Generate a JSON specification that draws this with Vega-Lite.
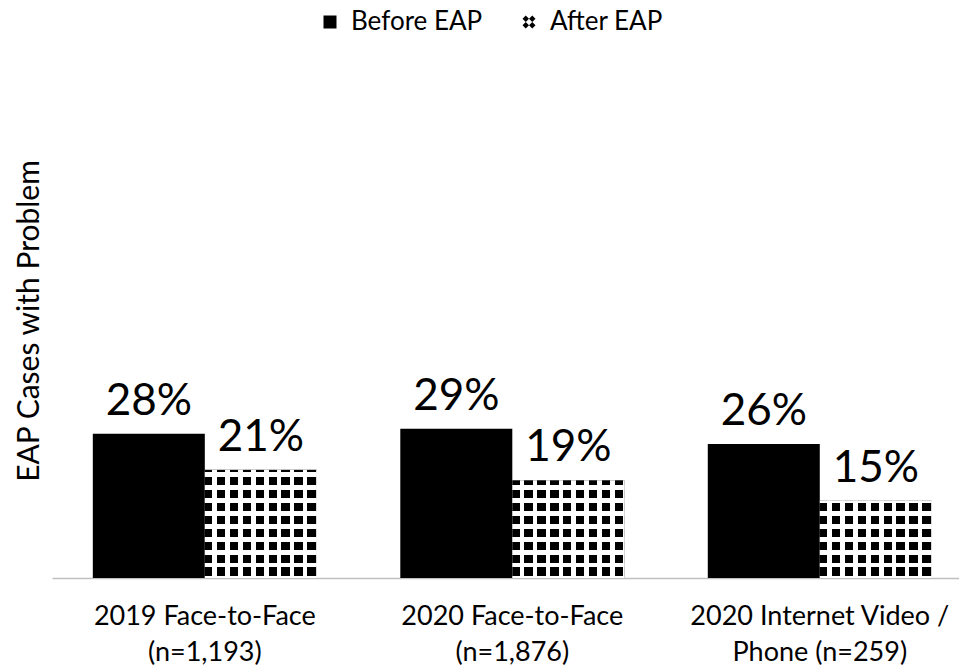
{
  "$schema": "https://vega.github.io/schema/vega-lite/v6.json",
  "autosize": {"type": "none"},
  "padding": {"left": 52, "top": 63, "right": 0, "bottom": 89},
  "width": 907,
  "height": 515,
  "config": {
    "font": "Lato",
    "view": {"stroke": null},
    "background": "#ffffff"
  },
  "data": {
    "values": [
      {"group": "2019 Face-to-Face|(n=1,193)", "series": "Before EAP", "value": 0.28},
      {"group": "2019 Face-to-Face|(n=1,193)", "series": "After EAP", "value": 0.21},
      {"group": "2020 Face-to-Face|(n=1,876)", "series": "Before EAP", "value": 0.29},
      {"group": "2020 Face-to-Face|(n=1,876)", "series": "After EAP", "value": 0.19},
      {"group": "2020 Internet Video /|Phone (n=259)", "series": "Before EAP", "value": 0.26},
      {"group": "2020 Internet Video /|Phone (n=259)", "series": "After EAP", "value": 0.15}
    ]
  },
  "encoding": {
    "x": {
      "field": "group", "type": "nominal",
      "sort": ["2019 Face-to-Face|(n=1,193)", "2020 Face-to-Face|(n=1,876)", "2020 Internet Video /|Phone (n=259)"],
      "scale": {"paddingInner": 0.2715, "paddingOuter": 0.1106, "align": 0.6},
      "axis": {
        "title": null, "labelAngle": 0, "ticks": false, "labelFontSize": 27, "labelColor": "#000000",
        "labelLineHeight": 36, "labelPadding": 25, "domainColor": "#bfbfbf", "domainWidth": 1.5,
        "labelExpr": "split(datum.label, '|')", "grid": false, "labelLimit": 500
      }
    },
    "xOffset": {
      "field": "series", "type": "nominal",
      "sort": ["Before EAP", "After EAP"],
      "scale": {"paddingInner": 0, "paddingOuter": 0}
    },
    "y": {
      "field": "value", "type": "quantitative",
      "scale": {"domain": [0, 1], "nice": false},
      "axis": {
        "title": "EAP Cases with Problem", "domain": false, "ticks": false, "labels": false, "grid": false,
        "titleFontSize": 30, "titleFontWeight": "normal", "titleColor": "#000000", "titlePadding": 8
      }
    }
  },
  "layer": [
    {
      "mark": {"type": "point", "filled": true, "size": 169, "opacity": 1, "strokeWidth": 0},
      "encoding": {
        "y": {"datum": 0.05, "type": "quantitative"},
        "color": {
          "field": "series", "type": "nominal",
          "scale": {"domain": ["Before EAP", "After EAP"], "range": ["#000000", "#000000"]},
          "legend": {
            "title": null, "orient": "none", "legendX": 265, "legendY": -54, "direction": "horizontal",
            "symbolSize": 169, "symbolStrokeWidth": 0, "labelFontSize": 26,
            "labelColor": "#000000", "labelOffset": 8, "columnPadding": 33, "labelLimit": 300
          }
        },
        "shape": {
          "field": "series", "type": "nominal",
          "scale": {"domain": ["Before EAP", "After EAP"], "range": ["square", "M-0.5,-1L0,-0.5L-0.5,0L-1,-0.5Z M0.5,-1L1,-0.5L0.5,0L0,-0.5Z M-0.5,0L0,0.5L-0.5,1L-1,0.5Z M0.5,0L1,0.5L0.5,1L0,0.5Z"]},
          "legend": {
            "title": null, "orient": "none", "legendX": 265, "legendY": -54, "direction": "horizontal",
            "symbolSize": 169, "symbolStrokeWidth": 0, "labelFontSize": 26,
            "labelColor": "#000000", "labelOffset": 8, "columnPadding": 33, "labelLimit": 300
          }
        }
      }
    },
    {
      "mark": {"type": "bar", "fill": "#000000", "strokeWidth": 0}
    },
    {
      "transform": [{"filter": "datum.series === 'After EAP'"}],
      "mark": {"type": "bar", "strokeWidth": 0, "fill": {"gradient": "linear", "x1": 0, "y1": 0, "x2": 1, "y2": 0, "stops": [
        {"offset": 0, "color": "rgba(255,255,255,0)"}, {"offset": 0.0669, "color": "rgba(255,255,255,0)"},
        {"offset": 0.0669, "color": "#ffffff"}, {"offset": 0.1083, "color": "#ffffff"},
        {"offset": 0.1083, "color": "rgba(255,255,255,0)"}, {"offset": 0.1821, "color": "rgba(255,255,255,0)"},
        {"offset": 0.1821, "color": "#ffffff"}, {"offset": 0.2235, "color": "#ffffff"},
        {"offset": 0.2235, "color": "rgba(255,255,255,0)"}, {"offset": 0.2973, "color": "rgba(255,255,255,0)"},
        {"offset": 0.2973, "color": "#ffffff"}, {"offset": 0.3387, "color": "#ffffff"},
        {"offset": 0.3387, "color": "rgba(255,255,255,0)"}, {"offset": 0.4125, "color": "rgba(255,255,255,0)"},
        {"offset": 0.4125, "color": "#ffffff"}, {"offset": 0.4539, "color": "#ffffff"},
        {"offset": 0.4539, "color": "rgba(255,255,255,0)"}, {"offset": 0.5277, "color": "rgba(255,255,255,0)"},
        {"offset": 0.5277, "color": "#ffffff"}, {"offset": 0.5691, "color": "#ffffff"},
        {"offset": 0.5691, "color": "rgba(255,255,255,0)"}, {"offset": 0.6429, "color": "rgba(255,255,255,0)"},
        {"offset": 0.6429, "color": "#ffffff"}, {"offset": 0.6843, "color": "#ffffff"},
        {"offset": 0.6843, "color": "rgba(255,255,255,0)"}, {"offset": 0.7581, "color": "rgba(255,255,255,0)"},
        {"offset": 0.7581, "color": "#ffffff"}, {"offset": 0.7995, "color": "#ffffff"},
        {"offset": 0.7995, "color": "rgba(255,255,255,0)"}, {"offset": 0.8733, "color": "rgba(255,255,255,0)"},
        {"offset": 0.8733, "color": "#ffffff"}, {"offset": 0.9147, "color": "#ffffff"},
        {"offset": 0.9147, "color": "rgba(255,255,255,0)"}, {"offset": 0.9885, "color": "rgba(255,255,255,0)"},
        {"offset": 0.9885, "color": "#ffffff"}, {"offset": 1, "color": "#ffffff"}
      ]}}
    },
    {
      "transform": [{"filter": "datum.series === 'After EAP' && indexof(datum.group, '2019') === 0"}],
      "mark": {"type": "bar", "strokeWidth": 0, "fill": {"gradient": "linear", "x1": 0, "y1": 1, "x2": 0, "y2": 0, "stops": [
        {"offset": 0, "color": "#ffffff"}, {"offset": 0.0215, "color": "#ffffff"},
        {"offset": 0.0215, "color": "rgba(255,255,255,0)"}, {"offset": 0.0978, "color": "rgba(255,255,255,0)"},
        {"offset": 0.0978, "color": "#ffffff"}, {"offset": 0.1408, "color": "#ffffff"},
        {"offset": 0.1408, "color": "rgba(255,255,255,0)"}, {"offset": 0.2171, "color": "rgba(255,255,255,0)"},
        {"offset": 0.2171, "color": "#ffffff"}, {"offset": 0.2601, "color": "#ffffff"},
        {"offset": 0.2601, "color": "rgba(255,255,255,0)"}, {"offset": 0.3364, "color": "rgba(255,255,255,0)"},
        {"offset": 0.3364, "color": "#ffffff"}, {"offset": 0.3794, "color": "#ffffff"},
        {"offset": 0.3794, "color": "rgba(255,255,255,0)"}, {"offset": 0.4557, "color": "rgba(255,255,255,0)"},
        {"offset": 0.4557, "color": "#ffffff"}, {"offset": 0.4987, "color": "#ffffff"},
        {"offset": 0.4987, "color": "rgba(255,255,255,0)"}, {"offset": 0.575, "color": "rgba(255,255,255,0)"},
        {"offset": 0.575, "color": "#ffffff"}, {"offset": 0.618, "color": "#ffffff"},
        {"offset": 0.618, "color": "rgba(255,255,255,0)"}, {"offset": 0.6943, "color": "rgba(255,255,255,0)"},
        {"offset": 0.6943, "color": "#ffffff"}, {"offset": 0.7373, "color": "#ffffff"},
        {"offset": 0.7373, "color": "rgba(255,255,255,0)"}, {"offset": 0.8136, "color": "rgba(255,255,255,0)"},
        {"offset": 0.8136, "color": "#ffffff"}, {"offset": 0.8566, "color": "#ffffff"},
        {"offset": 0.8566, "color": "rgba(255,255,255,0)"}, {"offset": 0.9329, "color": "rgba(255,255,255,0)"},
        {"offset": 0.9329, "color": "#ffffff"}, {"offset": 0.9759, "color": "#ffffff"},
        {"offset": 0.9759, "color": "rgba(255,255,255,0)"}, {"offset": 1, "color": "rgba(255,255,255,0)"}
      ]}}
    },
    {
      "transform": [{"filter": "datum.series === 'After EAP' && indexof(datum.group, '2020 Face') === 0"}],
      "mark": {"type": "bar", "strokeWidth": 0, "fill": {"gradient": "linear", "x1": 0, "y1": 1, "x2": 0, "y2": 0, "stops": [
        {"offset": 0, "color": "#ffffff"}, {"offset": 0.0237, "color": "#ffffff"},
        {"offset": 0.0237, "color": "rgba(255,255,255,0)"}, {"offset": 0.1081, "color": "rgba(255,255,255,0)"},
        {"offset": 0.1081, "color": "#ffffff"}, {"offset": 0.1555, "color": "#ffffff"},
        {"offset": 0.1555, "color": "rgba(255,255,255,0)"}, {"offset": 0.2399, "color": "rgba(255,255,255,0)"},
        {"offset": 0.2399, "color": "#ffffff"}, {"offset": 0.2873, "color": "#ffffff"},
        {"offset": 0.2873, "color": "rgba(255,255,255,0)"}, {"offset": 0.3717, "color": "rgba(255,255,255,0)"},
        {"offset": 0.3717, "color": "#ffffff"}, {"offset": 0.4191, "color": "#ffffff"},
        {"offset": 0.4191, "color": "rgba(255,255,255,0)"}, {"offset": 0.5035, "color": "rgba(255,255,255,0)"},
        {"offset": 0.5035, "color": "#ffffff"}, {"offset": 0.5509, "color": "#ffffff"},
        {"offset": 0.5509, "color": "rgba(255,255,255,0)"}, {"offset": 0.6353, "color": "rgba(255,255,255,0)"},
        {"offset": 0.6353, "color": "#ffffff"}, {"offset": 0.6827, "color": "#ffffff"},
        {"offset": 0.6827, "color": "rgba(255,255,255,0)"}, {"offset": 0.7671, "color": "rgba(255,255,255,0)"},
        {"offset": 0.7671, "color": "#ffffff"}, {"offset": 0.8145, "color": "#ffffff"},
        {"offset": 0.8145, "color": "rgba(255,255,255,0)"}, {"offset": 0.8989, "color": "rgba(255,255,255,0)"},
        {"offset": 0.8989, "color": "#ffffff"}, {"offset": 0.9463, "color": "#ffffff"},
        {"offset": 0.9463, "color": "rgba(255,255,255,0)"}, {"offset": 1, "color": "rgba(255,255,255,0)"}
      ]}}
    },
    {
      "transform": [{"filter": "datum.series === 'After EAP' && indexof(datum.group, '2020 Internet') === 0"}],
      "mark": {"type": "bar", "strokeWidth": 0, "fill": {"gradient": "linear", "x1": 0, "y1": 1, "x2": 0, "y2": 0, "stops": [
        {"offset": 0, "color": "#ffffff"}, {"offset": 0.0301, "color": "#ffffff"},
        {"offset": 0.0301, "color": "rgba(255,255,255,0)"}, {"offset": 0.1369, "color": "rgba(255,255,255,0)"},
        {"offset": 0.1369, "color": "#ffffff"}, {"offset": 0.1971, "color": "#ffffff"},
        {"offset": 0.1971, "color": "rgba(255,255,255,0)"}, {"offset": 0.3039, "color": "rgba(255,255,255,0)"},
        {"offset": 0.3039, "color": "#ffffff"}, {"offset": 0.3641, "color": "#ffffff"},
        {"offset": 0.3641, "color": "rgba(255,255,255,0)"}, {"offset": 0.4709, "color": "rgba(255,255,255,0)"},
        {"offset": 0.4709, "color": "#ffffff"}, {"offset": 0.5311, "color": "#ffffff"},
        {"offset": 0.5311, "color": "rgba(255,255,255,0)"}, {"offset": 0.6379, "color": "rgba(255,255,255,0)"},
        {"offset": 0.6379, "color": "#ffffff"}, {"offset": 0.6981, "color": "#ffffff"},
        {"offset": 0.6981, "color": "rgba(255,255,255,0)"}, {"offset": 0.8049, "color": "rgba(255,255,255,0)"},
        {"offset": 0.8049, "color": "#ffffff"}, {"offset": 0.8651, "color": "#ffffff"},
        {"offset": 0.8651, "color": "rgba(255,255,255,0)"}, {"offset": 0.9719, "color": "rgba(255,255,255,0)"},
        {"offset": 0.9719, "color": "#ffffff"}, {"offset": 1, "color": "#ffffff"}
      ]}}
    },
    {
      "mark": {"type": "text", "baseline": "alphabetic", "dy": -19, "fontSize": 44, "color": "#000000"},
      "encoding": {
        "text": {"field": "value", "type": "quantitative", "format": ".0%"}
      }
    }
  ]
}
